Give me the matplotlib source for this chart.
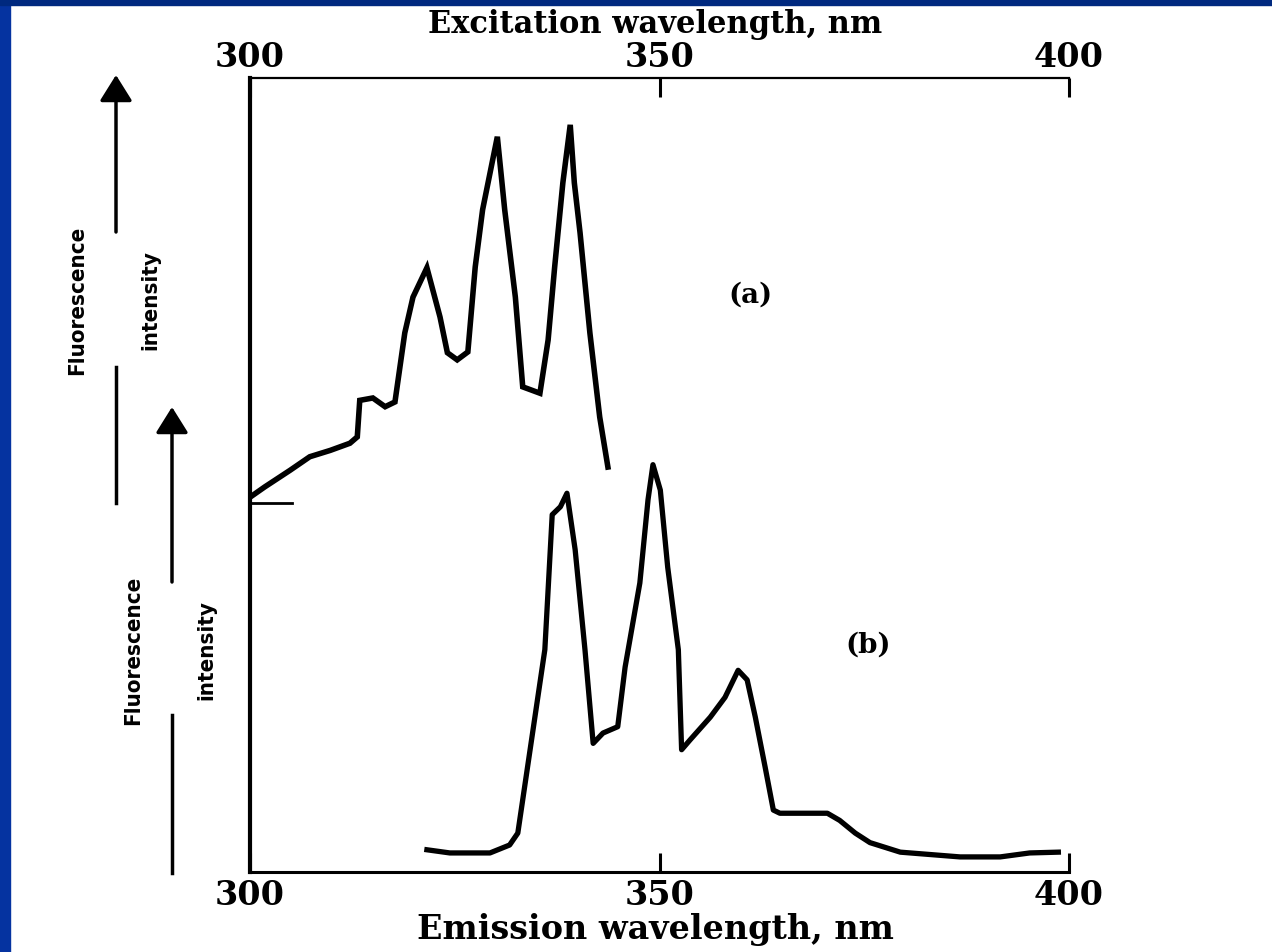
import matplotlib
matplotlib.use("Agg")
import matplotlib.pyplot as plt
from matplotlib.patches import Rectangle
from matplotlib.lines import Line2D

# (a) excitation spectrum: wavelength (nm), intensity (arb. units)
exc_nm = [300.0, 301.8, 304.9, 307.3, 309.8, 312.2, 313.1, 313.4, 315.0, 316.5,
          317.7, 318.9, 319.9, 321.6, 323.2, 324.1, 325.3, 326.6, 327.5, 328.4,
          330.2, 331.1, 332.4, 333.3, 335.4, 336.4, 337.2, 338.2, 339.1, 339.6,
          340.3, 341.5, 342.7, 343.7]
exc_int = [47.2, 48.5, 50.6, 52.3, 53.1, 54.0, 54.8, 59.4, 59.7, 58.6,
           59.2, 67.9, 72.4, 76.1, 69.9, 65.4, 64.5, 65.5, 76.2, 83.4,
           92.6, 83.4, 72.4, 61.1, 60.3, 67.0, 76.2, 86.8, 94.1, 86.8,
           80.5, 67.9, 57.3, 51.0]
exc_base_nm = [300.0, 305.1]
exc_base = 46.5

# (b) emission spectrum
emi_nm = [321.6, 324.4, 329.3, 331.7, 332.7, 334.2, 336.0, 336.9, 337.9, 338.7,
          339.7, 340.9, 341.9, 343.1, 344.9, 345.8, 347.6, 348.6, 349.2, 350.1,
          351.0, 352.3, 352.7, 353.7, 356.2, 358.0, 359.6, 360.7, 361.7, 362.9,
          363.9, 364.7, 370.5, 372.0, 373.9, 375.7, 379.4, 386.7, 391.6, 395.2,
          398.7]
emi_int = [2.8, 2.4, 2.4, 3.4, 4.9, 15.4, 28.0, 45.0, 46.0, 47.7,
           40.6, 28.0, 16.2, 17.5, 18.3, 25.8, 36.4, 46.9, 51.3, 48.1,
           38.4, 28.0, 15.4, 16.6, 19.5, 22.0, 25.4, 24.2, 19.5, 13.2,
           7.8, 7.4, 7.4, 6.5, 4.9, 3.7, 2.5, 1.9, 1.9, 2.4,
           2.5]

ticks = [300, 350, 400]

W, H = 1272, 952
fig = plt.figure(figsize=(W / 100, H / 100), dpi=100)
fig.patch.set_facecolor("white")
fig.patches.append(Rectangle((0, 0), 10 / W, 1, transform=fig.transFigure,
                             color="#0533A0", zorder=0))
fig.patches.append(Rectangle((0, 1 - 5 / H), 1, 5 / H, transform=fig.transFigure,
                             color="#00297F", zorder=0))

ax = fig.add_axes([250 / W, 1 - 872 / H, (1069 - 250) / W, (872 - 78) / H])
ax.set_xlim(300, 400)
ax.set_ylim(0, 100)
ax.patch.set_alpha(0)

ax.plot(exc_nm, exc_int, color="black", lw=4, solid_joinstyle="miter")
ax.plot(exc_base_nm, [exc_base, exc_base], color="black", lw=2)
ax.plot(emi_nm, emi_int, color="black", lw=3.8, solid_joinstyle="round")

serif = dict(family="DejaVu Serif", weight="bold")
ax.text(361.1, 72.7, "(a)", fontsize=20, ha="center", va="center", **serif)
ax.text(375.5, 28.6, "(b)", fontsize=20, ha="center", va="center", **serif)

for s in ["right", "top"]:
    ax.spines[s].set_visible(False)
ax.spines["left"].set_linewidth(3)
ax.spines["bottom"].set_linewidth(2.2)
ax.set_yticks([])
ax.set_xticks(ticks)
ax.tick_params(axis="x", direction="in", length=14, width=2.2, pad=5)
for lab in ax.get_xticklabels():
    lab.set_fontsize(24)
    lab.set_fontfamily("DejaVu Serif")
    lab.set_fontweight("bold")
ax.set_xlabel("Emission wavelength, nm", fontsize=24, **serif)
ax.xaxis.set_label_coords(0.495, -0.073)
ax.xaxis.label.set_va("center")

top = ax.secondary_xaxis("top")
top.set_xticks(ticks)
top.spines["top"].set_linewidth(1.6)
top.tick_params(axis="x", direction="in", length=14, width=2.2, pad=3)
for lab in top.get_xticklabels():
    lab.set_fontsize(24)
    lab.set_fontfamily("DejaVu Serif")
    lab.set_fontweight("bold")
top.set_xlabel("Excitation wavelength, nm", fontsize=22, **serif)
top.xaxis.set_label_coords(0.495, 1.068, transform=ax.transAxes)
top.xaxis.label.set_va("center")

# left-hand "Fluorescence intensity" arrows (figure pixel positions)
narrow = dict(family="DejaVu Sans", weight="bold", stretch="condensed")


def intensity_arrow(x, y_tip, y_mid_top, y_mid_bot, y_end, y_text):
    ax.annotate("", xy=(x, H - y_tip), xytext=(x, H - y_mid_top),
                xycoords="figure pixels", textcoords="figure pixels",
                arrowprops=dict(arrowstyle="-|>,head_length=0.8,head_width=0.5",
                                mutation_scale=20, lw=2.5, color="black",
                                shrinkA=0, shrinkB=0))
    fig.add_artist(Line2D([x / W, x / W], [1 - y_mid_bot / H, 1 - y_end / H],
                          transform=fig.transFigure, color="black", lw=2.5))
    fig.text((x - 39) / W, 1 - y_text / H, "Fluorescence", rotation=90,
             fontsize=16, ha="center", va="center", **narrow)
    fig.text((x + 34) / W, 1 - y_text / H, "intensity", rotation=90,
             fontsize=16, ha="center", va="center", **narrow)


intensity_arrow(116, 75, 232, 367, 503, 300)
intensity_arrow(172, 407, 582, 715, 873, 650)

fig.savefig("out.png", dpi=100)
